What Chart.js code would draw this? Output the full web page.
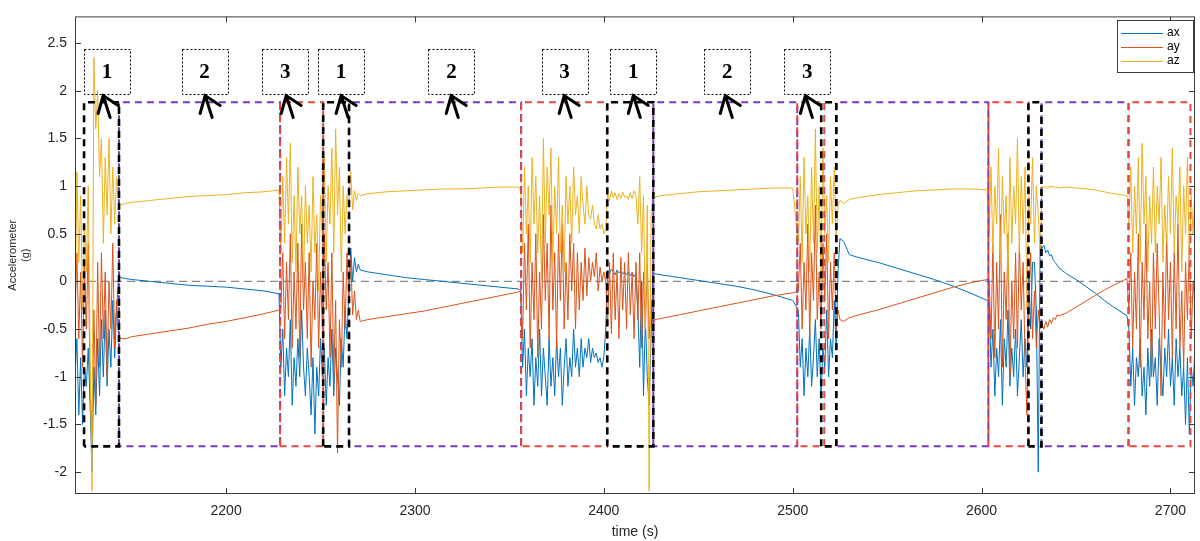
<!DOCTYPE html>
<html>
<head>
<meta charset="utf-8">
<script src="https://cdn.jsdelivr.net/npm/chart.js@4.4.0/dist/chart.umd.min.js"></script>
<style>
html, body { margin: 0; padding: 0; background: #fff; }
</style>
</head>
<body>
<canvas id="graph" width="1200" height="541"></canvas>
<script>
// tiempo (s) - muestreo mas denso en los tramos con movimiento
const time = [
  2120,2121,2122,2123,2124,2125,2126,2127,2128,2129,2130,2131,2132,2133,2134,2135,2136,2137,2138,2139,2140,2141,2142,2143,
  2144,2147,2150,2160,2170,2180,2190,2200,2210,2220,2228,
  2229,2230,2231,2232,2233,2234,2235,2236,2237,2238,2239,2240,2241,2242,2243,2244,2245,2246,2247,2248,
  2249,2250,2251,2252,2253,2254,2255,2256,2257,2258,2259,2260,2261,2262,2263,2264,2265,2266,2267,2268,2269,2270,2271,
  2275,2285,2295,2305,2315,2325,2335,2345,2355,
  2356,2357,2358,2359,2360,2361,2362,2363,2364,2365,2366,2367,2368,2369,2370,2371,2372,2373,2374,2375,
  2376,2377,2378,2379,2380,2381,2382,2383,2384,2385,2386,2387,2388,2389,2390,2391,2392,2393,2394,2395,
  2396,2397,2398,2399,2400,2401,2402,2403,2404,2405,2406,2407,2408,2409,2410,2411,2412,2413,2414,2415,
  2416,2417,2418,2419,2420,2421,2422,2423,2424,2425,2426,2427,
  2430,2440,2450,2460,2470,2480,2490,2500,
  2503,2504,2505,2506,2507,2508,2509,2510,2511,2512,2513,2514,2515,2516,2517,2518,2519,2520,2521,2522,2523,2524,2525,
  2527,2530,2535,2545,2555,2565,2575,2585,2595,2603,
  2604,2605,2606,2607,2608,2609,2610,2611,2612,2613,2614,2615,2616,2617,2618,2619,2620,2621,2622,2623,
  2624,2625,2626,2627,2628,2629,2630,2631,2632,2633,2634,2635,2636,2637,2638,2639,2640,2641,
  2645,2650,2655,2660,2665,2670,2677,
  2678,2679,2680,2681,2682,2683,2684,2685,2686,2687,2688,2689,2690,2691,2692,2693,2694,2695,2696,2697,
  2698,2699,2700,2701,2702,2703,2704,2705,2706,2707,2708,2709,2710,2711,2712,2713
];

const ax = [
  -1.0,-0.6,-1.4,-0.8,-1.5,-0.9,-1.1,-0.7,-1.3,-2.0,-0.9,-1.4,-0.6,-1.2,-0.4,-1.0,-0.3,-1.1,-0.5,-0.9,-0.2,-0.8,-0.3,0.03,
  0.04,0.03,0.02,0.0,-0.02,-0.04,-0.05,-0.06,-0.08,-0.10,-0.13,
  -0.9,-0.5,-1.2,-0.7,-1.0,-0.4,-1.3,-0.8,-1.1,-0.6,-1.0,-0.3,-0.9,-1.2,-0.7,-1.0,-1.4,-0.8,-1.6,-0.9,
  -1.2,-0.6,-1.0,-0.7,-1.3,-0.8,-1.1,-0.5,-1.2,-0.7,-1.0,-1.3,-0.6,-0.9,-0.3,-0.6,-0.1,0.35,0.0,0.25,0.1,0.18,0.12,
  0.1,0.07,0.04,0.02,0.0,-0.02,-0.04,-0.06,-0.08,
  -0.1,-0.9,-0.5,-1.2,-0.7,-1.0,-0.6,-1.3,-0.8,-1.1,-0.5,-1.2,-0.7,-1.0,-1.3,-0.6,-1.1,-0.8,-1.2,-0.6,
  -1.0,-0.7,-1.3,-0.9,-0.6,-1.1,-0.8,-1.0,-0.5,-0.9,-0.7,-1.0,-0.6,-0.9,-0.7,-0.8,-0.6,-0.85,-0.7,-0.8,
  -0.75,-0.85,-0.8,-0.9,-0.8,-0.5,0.12,0.08,0.13,0.1,0.07,0.12,0.09,0.11,0.08,0.1,0.07,0.1,0.06,0.09,
  0.05,0.08,-0.3,-0.9,0.0,-1.2,-0.4,-1.0,-1.3,-0.6,0.1,0.08,
  0.07,0.04,0.01,-0.02,-0.05,-0.09,-0.14,-0.2,
  -0.3,-0.9,-0.6,-1.2,-0.7,-1.0,-0.5,-1.1,-0.8,-0.4,-1.0,-0.6,-1.2,-0.7,-0.9,-0.3,-1.0,-0.6,-0.8,-0.2,-0.7,0.1,0.45,
  0.42,0.28,0.25,0.2,0.14,0.08,0.02,-0.05,-0.13,-0.2,
  -0.2,-0.9,-0.5,-1.2,-0.7,-1.0,-0.4,-1.3,-0.6,-0.9,-0.3,-1.1,-0.7,-1.0,-0.5,-1.2,-0.8,-0.4,-1.0,-0.6,
  -0.9,0.1,-0.5,0.2,0.2,-0.3,-2.0,0.4,0.35,0.38,0.3,0.33,0.27,0.28,0.22,0.2,0.17,0.14,
  0.08,0.02,-0.05,-0.12,-0.2,-0.27,-0.36,
  -0.5,-1.1,-0.7,-1.3,-0.8,-1.0,-0.6,-1.2,-0.9,-1.4,-0.7,-1.1,-0.5,-1.0,-0.8,-1.3,-0.6,-0.9,-1.2,-0.7,
  -1.0,-0.5,-1.1,-0.8,-1.3,-0.6,-1.0,-0.7,-1.2,-0.9,-1.5,-0.8,-1.6,-0.9,-1.1,-0.7
];

const ay = [
  -0.4,0.3,-0.6,0.1,-0.9,0.2,-0.5,0.4,-1.1,-1.6,-0.3,-1.3,0.2,-0.9,0.3,-0.6,0.1,-1.0,0.0,-0.5,0.4,-0.7,-0.2,-0.55,
  -0.6,-0.6,-0.58,-0.55,-0.52,-0.49,-0.45,-0.42,-0.38,-0.34,-0.30,
  -0.3,0.3,-0.6,0.2,-0.4,0.5,-0.7,0.1,-0.5,0.4,-0.8,0.6,-0.3,0.2,-0.6,0.3,-0.9,0.0,-0.4,0.4,
  -0.7,0.1,-0.5,0.5,-0.3,0.2,-0.8,0.3,-1.0,-0.2,-1.8,-0.4,-0.9,0.1,-0.5,0.3,-0.2,0.25,-0.35,-0.1,-0.4,-0.3,-0.42,
  -0.40,-0.37,-0.34,-0.31,-0.27,-0.23,-0.19,-0.15,-0.11,
  -0.1,-0.6,0.4,-0.3,0.6,-0.7,0.2,-0.4,0.5,-0.8,0.1,-0.5,0.7,-0.2,0.4,-0.6,0.8,-0.3,0.3,-0.7,
  0.5,-0.2,0.6,-0.5,0.2,-0.4,0.5,-0.1,0.4,-0.5,0.3,-0.3,0.2,-0.2,0.35,-0.15,0.25,0.0,0.2,0.05,
  0.3,-0.1,0.15,0.0,0.1,0.0,-0.45,0.2,-0.55,0.3,-0.4,0.1,-0.6,0.25,-0.3,0.2,-0.5,0.3,-0.35,0.1,
  -0.6,0.2,-0.4,0.3,-0.7,0.1,-0.5,0.2,-0.6,-0.2,-0.45,-0.4,
  -0.39,-0.35,-0.31,-0.27,-0.23,-0.19,-0.15,-0.12,
  -0.1,0.4,-0.5,0.2,-0.3,0.6,-0.6,0.3,-0.2,0.8,-0.4,0.1,-0.5,0.4,-0.2,0.5,-0.6,0.2,-0.3,0.3,-0.5,-0.3,-0.4,
  -0.42,-0.38,-0.35,-0.3,-0.24,-0.18,-0.12,-0.06,-0.01,0.02,
  0.0,-0.6,0.4,-0.8,0.2,-0.5,0.7,-0.9,0.1,-0.4,0.5,-1.0,0.0,-0.6,0.3,-0.7,0.4,-0.3,0.2,-0.8,
  -1.4,-0.2,0.3,-0.6,-0.1,-0.7,-0.3,-0.5,-0.45,-0.5,-0.42,-0.48,-0.4,-0.44,-0.38,-0.4,-0.35,-0.36,
  -0.33,-0.27,-0.21,-0.15,-0.09,-0.04,0.03,
  -0.3,0.3,-0.7,0.1,-0.5,0.5,-0.9,0.2,-0.4,0.6,-0.6,0.0,-1.0,0.3,-0.5,0.4,-0.3,-1.2,0.1,-0.6,
  0.5,-0.4,0.2,-0.8,0.3,-0.5,0.6,-0.7,-0.1,-0.9,0.2,-0.4,0.4,-0.6,0.0,-0.3
];

const az = [
  -0.5,1.15,0.2,0.9,-0.3,0.6,0.1,1.0,-0.8,-2.2,2.35,1.6,2.0,1.1,1.5,0.4,1.3,0.7,1.5,0.5,1.2,0.6,1.1,0.82,
  0.80,0.82,0.83,0.85,0.87,0.89,0.90,0.91,0.93,0.94,0.96,
  0.3,1.1,0.4,1.3,0.6,1.45,0.2,0.9,0.1,1.2,0.5,0.9,0.0,1.0,0.4,0.8,0.1,1.1,0.3,0.7,
  -0.1,0.9,0.5,1.3,0.2,1.0,0.6,1.4,0.3,1.6,0.7,1.2,0.1,1.0,0.5,0.9,0.8,1.15,0.75,0.95,0.85,0.92,0.9,
  0.92,0.94,0.95,0.96,0.97,0.97,0.98,0.99,0.99,
  0.95,0.3,1.2,0.5,1.0,0.2,1.3,0.6,1.1,0.3,0.9,0.0,1.5,0.4,1.2,0.7,1.4,0.2,1.0,0.5,
  1.3,0.3,0.8,0.1,1.1,0.6,1.0,0.4,1.2,0.7,0.9,0.5,1.1,0.8,0.6,1.0,0.7,0.65,0.8,0.6,
  0.55,0.7,0.55,0.6,0.5,0.55,0.92,0.85,0.95,0.88,0.93,0.86,0.92,0.87,0.94,0.88,0.9,0.86,0.93,0.87,
  0.95,0.9,0.6,1.1,0.3,0.9,-0.5,0.8,-2.2,0.7,0.95,0.88,
  0.9,0.92,0.94,0.95,0.96,0.97,0.98,0.98,
  0.4,1.1,0.2,1.3,0.5,0.9,0.1,1.2,0.4,1.6,0.3,1.0,0.0,1.4,0.5,0.9,0.2,1.1,0.6,1.2,0.4,0.8,0.85,
  0.82,0.86,0.88,0.91,0.93,0.95,0.96,0.97,0.97,0.96,
  0.5,1.2,0.3,1.0,0.6,1.4,0.2,1.1,0.5,0.9,0.0,1.3,0.4,1.0,0.6,1.5,0.3,1.1,0.5,1.2,
  -0.3,0.9,0.6,1.3,0.4,1.0,0.7,0.3,1.0,0.98,1.0,0.97,1.0,0.99,1.0,0.98,0.99,0.98,
  0.99,0.98,0.97,0.96,0.94,0.92,0.9,
  0.6,1.2,0.3,1.0,0.5,1.3,0.2,1.45,0.6,1.1,0.1,0.9,0.4,1.2,0.3,1.0,0.6,1.3,0.2,0.8,
  0.4,1.1,0.5,1.4,0.3,0.9,0.6,1.2,0.1,1.0,0.5,1.3,0.2,0.9,0.5,1.0
];

// ticks
const xTicks = [2200, 2300, 2400, 2500, 2600, 2700];
const yTicks = [-2, -1.5, -1, -0.5, 0, 0.5, 1, 1.5, 2, 2.5];

// rectangulos de las fases (inicio / fin en s)
const rectStart = [2124.8, 2143.3, 2228.6, 2251.4, 2265.1, 2356.2, 2401.8, 2426.2, 2502.4, 2515.1, 2523.1, 2603.6, 2624.8, 2631.7, 2677.8];
const rectEnd   = [2143.3, 2228.6, 2251.4, 2265.1, 2356.2, 2401.8, 2426.2, 2502.4, 2516.7, 2523.1, 2603.6, 2624.8, 2631.7, 2677.8, 2710.6];
const rectKind  = ['k','p','r','k','p','r','k','p','r','k','p','r','k','p','r'];
const rectTop = 1.88;
const rectBottom = -1.73;

// etiquetas de fase
const phaseText   = ['1','2','3','1','2','3','1','2','3'];
const phaseCenter = [2136.9, 2188.6, 2231.3, 2260.9, 2319.3, 2379.2, 2415.6, 2465.4, 2507.7];
const arrowTip    = [2134.9, 2188.9, 2231.8, 2260.9, 2319.2, 2379.0, 2415.6, 2464.3, 2506.7];

const colores = { ax: "#0072BD", ay: "#D95319", az: "#EDB120" };
const rectColor = { k: "#000000", p: "#7638C2", r: "#E2483D" };

function serie(vals) {
  return time.map((t, i) => ({ x: t, y: vals[i] }));
}

const datasets = [
  { label: "ax", data: serie(ax), borderColor: colores.ax, borderWidth: 1, order: 5 },
  { label: "ay", data: serie(ay), borderColor: colores.ay, borderWidth: 1, order: 4 },
  { label: "az", data: serie(az), borderColor: colores.az, borderWidth: 1, order: 3 },
  { label: "cero", data: [{ x: 2120, y: 0 }, { x: 2713, y: 0 }], borderColor: "#8a8a8a",
    borderWidth: 1.2, borderDash: [8, 5], order: 6 }
];

rectStart.forEach((s, i) => {
  const e = rectEnd[i];
  const k = rectKind[i];
  datasets.push({
    label: "rect" + i,
    data: [{ x: s, y: rectBottom }, { x: s, y: rectTop }, { x: e, y: rectTop }, { x: e, y: rectBottom }, { x: s, y: rectBottom }],
    borderColor: rectColor[k],
    borderWidth: k === 'k' ? 2.6 : 2,
    borderDash: [7, 5],
    order: k === 'k' ? 0 : (k === 'r' ? 1 : 2)
  });
});

// marco estilo matlab, ticks hacia adentro, leyenda y etiquetas
const marco = {
  id: "marco",
  afterDatasetsDraw(chart) {
    const { ctx, chartArea: a, scales: { x, y } } = chart;
    ctx.save();

    // cajas punteadas con el numero de fase
    ctx.strokeStyle = "#000";
    ctx.lineWidth = 1;
    ctx.setLineDash([2, 2]);
    phaseCenter.forEach((c, i) => {
      const l = x.getPixelForValue(c - 12.2);
      const r = x.getPixelForValue(c + 12.2);
      const t = y.getPixelForValue(2.44);
      const b = y.getPixelForValue(1.97);
      ctx.strokeRect(Math.round(l) + 0.5, Math.round(t) + 0.5, Math.round(r - l), Math.round(b - t));
      ctx.fillStyle = "#000";
      ctx.font = "bold 21px 'Liberation Serif', 'Times New Roman', serif";
      ctx.textAlign = "center";
      ctx.textBaseline = "middle";
      ctx.fillText(phaseText[i], (l + r) / 2, (t + b) / 2 + 1);
    });

    // flechas
    ctx.setLineDash([]);
    ctx.lineWidth = 3;
    ctx.lineCap = "round";
    arrowTip.forEach((tt) => {
      const px = x.getPixelForValue(tt);
      const py = y.getPixelForValue(1.95);
      ctx.beginPath();
      ctx.moveTo(px - 5, py + 18); ctx.lineTo(px, py); ctx.lineTo(px + 15, py + 10);
      ctx.moveTo(px, py); ctx.lineTo(px + 7, py + 22);
      ctx.stroke();
    });

    // caja de ejes
    ctx.lineCap = "butt";
    ctx.lineWidth = 1;
    ctx.strokeStyle = "#3a3a3a";
    ctx.strokeRect(a.left + 0.5, a.top + 0.5, a.right - a.left - 1, a.bottom - a.top - 1);
    ctx.beginPath();
    xTicks.forEach((v) => {
      const px = Math.round(x.getPixelForValue(v)) + 0.5;
      ctx.moveTo(px, a.bottom); ctx.lineTo(px, a.bottom - 6);
      ctx.moveTo(px, a.top); ctx.lineTo(px, a.top + 6);
    });
    yTicks.forEach((v) => {
      const py = Math.round(y.getPixelForValue(v)) + 0.5;
      ctx.moveTo(a.left, py); ctx.lineTo(a.left + 6, py);
      ctx.moveTo(a.right, py); ctx.lineTo(a.right - 6, py);
    });
    ctx.stroke();

    // leyenda
    const lx = 1117, ly = 20, lw = 76, lh = 52;
    ctx.fillStyle = "#fff";
    ctx.fillRect(lx, ly, lw, lh);
    ctx.strokeStyle = "#3a3a3a";
    ctx.strokeRect(lx + 0.5, ly + 0.5, lw, lh);
    ["ax", "ay", "az"].forEach((n, i) => {
      const yy = ly + 13 + i * 14;
      ctx.strokeStyle = colores[n];
      ctx.lineWidth = 1;
      ctx.beginPath();
      ctx.moveTo(lx + 4, yy + 0.5); ctx.lineTo(lx + 46, yy + 0.5);
      ctx.stroke();
      ctx.fillStyle = "#000";
      ctx.font = "12px 'Liberation Sans', Arial, sans-serif";
      ctx.textAlign = "left";
      ctx.textBaseline = "middle";
      ctx.fillText(n, lx + 50, yy);
    });
    ctx.restore();
  }
};

Chart.defaults.font.family = "'Liberation Sans', Arial, sans-serif";
Chart.defaults.color = "#262626";

const graphCanvas = document.getElementById("graph");
const myChart = new Chart(graphCanvas, {
  type: "line",
  data: { datasets },
  options: {
    responsive: false,
    animation: false,
    devicePixelRatio: 1,
    parsing: true,
    elements: { point: { radius: 0 }, line: { tension: 0, fill: false } },
    layout: { padding: { left: 0, right: 5, top: 10, bottom: 0 } },
    plugins: { legend: { display: false }, tooltip: { enabled: false } },
    scales: {
      x: {
        type: "linear",
        min: 2120,
        max: 2713,
        afterBuildTicks: (s) => { s.ticks = xTicks.map((v) => ({ value: v })); },
        afterFit: (s) => { s.height = 47; },
        grid: { display: false, drawTicks: false },
        border: { display: false },
        ticks: { font: { size: 14 }, padding: 9, maxRotation: 0, callback: (v) => String(v) },
        title: { display: true, text: "time (s)", font: { size: 14 }, padding: { top: 2, bottom: 0 } }
      },
      y: {
        type: "linear",
        min: -2.23,
        max: 2.78,
        afterBuildTicks: (s) => { s.ticks = yTicks.map((v) => ({ value: v })); },
        afterFit: (s) => { s.width = 75; },
        grid: { display: false, drawTicks: false },
        border: { display: false },
        ticks: { font: { size: 14 }, padding: 8, callback: (v) => String(v) },
        title: { display: true, text: ["Accelerometer", "(g)"], font: { size: 11 }, padding: { top: 6, bottom: 0 } }
      }
    }
  },
  plugins: [marco]
});
</script>
</body>
</html>
